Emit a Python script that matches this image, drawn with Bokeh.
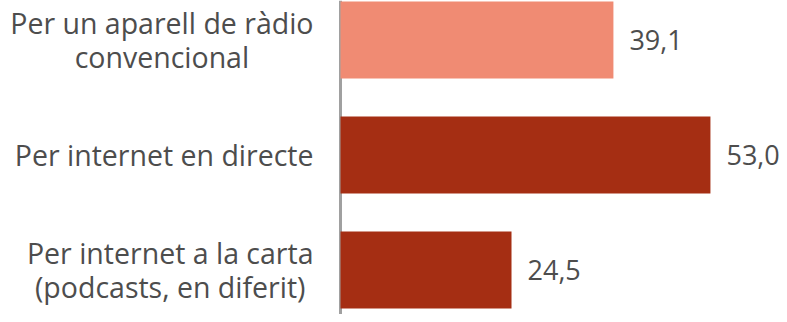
from bokeh.plotting import figure
from bokeh.models import ColumnDataSource, Range1d, Span
from bokeh.core.properties import value
from bokeh.embed import file_html
from bokeh.resources import INLINE

# ---- data ----
categories = [
    "Per un aparell de ràdio\nconvencional",
    "Per internet en directe",
    "Per internet a la carta\n(podcasts, en diferit)",
]
values = [39.1, 53.0, 24.5]
bar_colors = ["#F08B73", "#A52E13", "#A52E13"]

# ---- layout constants ----
W, H = 779, 314
AXIS_PX = 340          # pixel position of the zero line inside the figure
PX_PER_UNIT = 6.98     # horizontal pixels per value unit
BAND_PX = 115          # vertical pixels per category
FIRST_CENTER_PX = 39.5 # centre of first bar from top of figure

FONT = "Open Sans"
TEXT_COLOR = "#4d4d4d"

idx = list(range(len(categories)))
labels = [f"{v:.1f}".replace(".", ",") for v in values]

src = ColumnDataSource(dict(y=idx, v=values, cat=categories, lab=labels,
                            color=bar_colors, zero=[0] * len(idx)))

x_start = -AXIS_PX / PX_PER_UNIT
x_end = (W - AXIS_PX) / PX_PER_UNIT
y_top = -FIRST_CENTER_PX / BAND_PX
y_bottom = (H - FIRST_CENTER_PX) / BAND_PX

p = figure(width=W, height=H, output_backend="svg", toolbar_location=None,
           x_range=Range1d(x_start, x_end), y_range=Range1d(y_bottom, y_top),
           min_border=0, min_border_left=0, min_border_right=0,
           min_border_top=0, min_border_bottom=0)
p.axis.visible = False
p.grid.visible = False
p.outline_line_color = None
p.background_fill_color = "white"
p.border_fill_color = "white"

axis_line = Span(location=0, dimension="height", line_color="#a0a0a0",
                 line_width=3, level="underlay")
p.add_layout(axis_line)

p.hbar(y="y", left=0, right="v", height=77 / BAND_PX, color="color",
       line_color=None, source=src)

p.text(x="v", y="y", text="lab", source=src, x_offset=16,
       text_align="left", text_baseline="middle",
       text_font=value(FONT), text_font_size="27px", text_color=TEXT_COLOR)

p.text(x="zero", y="y", text="cat", source=src, x_offset=-27,
       anchor="center_right", text_align="center", text_baseline="middle",
       text_font=value(FONT), text_font_size="28.5px", text_color=TEXT_COLOR,
       text_line_height=0.9)

open("out.html", "w").write(file_html(p, INLINE))
